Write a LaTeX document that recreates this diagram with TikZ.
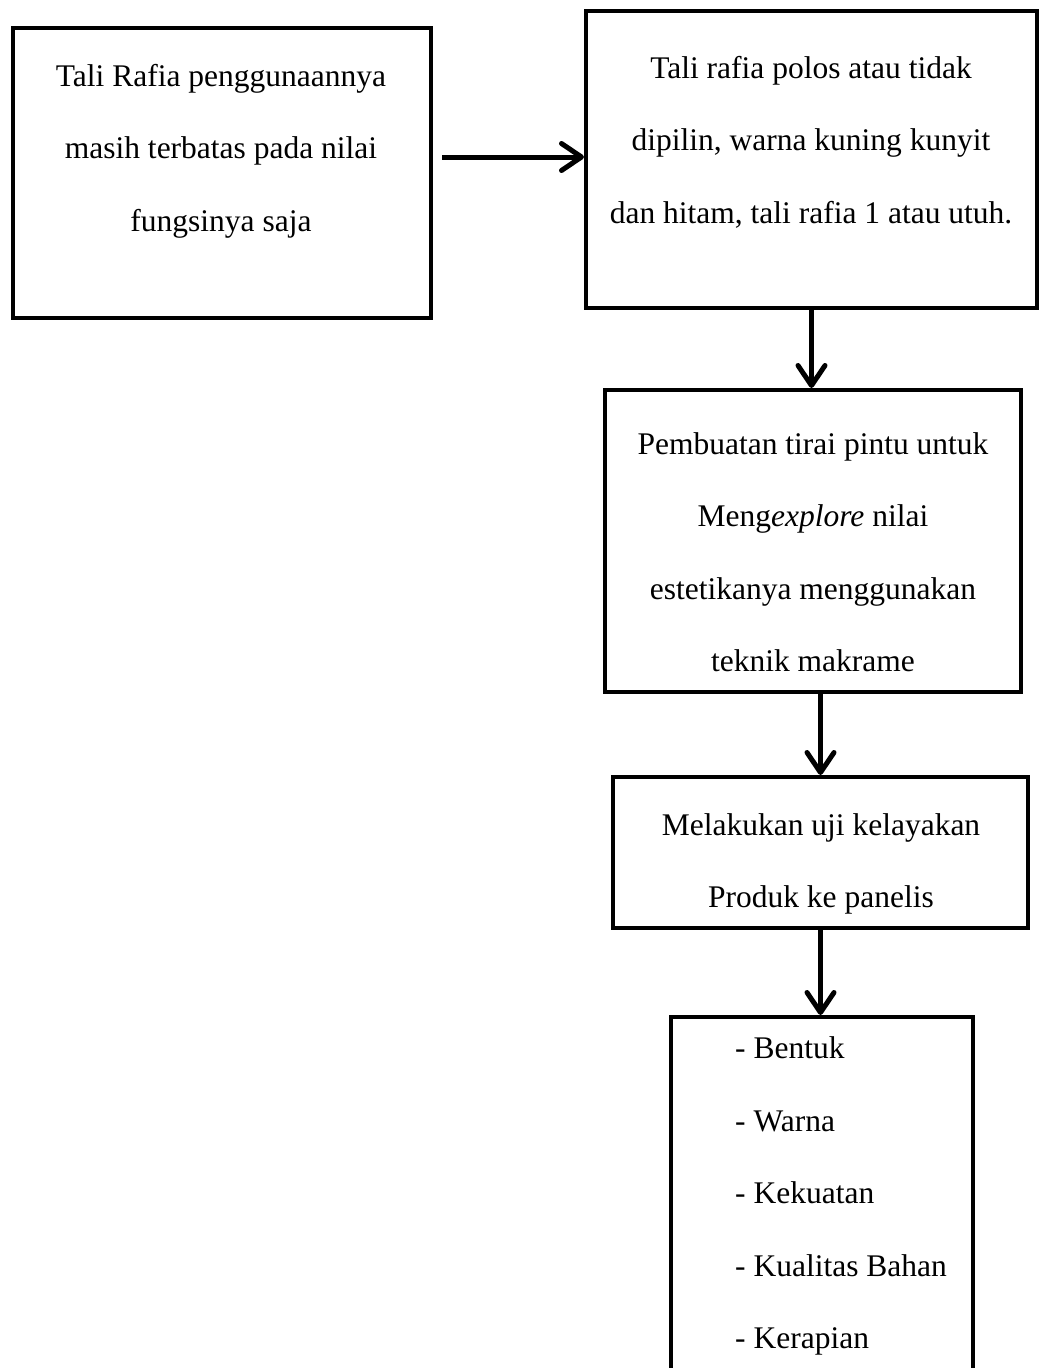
\documentclass[tikz,border=0pt]{standalone}
\usepackage{fontspec}
\setmainfont{Liberation Serif}
\usepackage{tikz}
\usetikzlibrary{calc,arrows.meta,positioning}
\tikzset{
  box/.style={draw=black,line width=4pt,inner sep=0pt},
  ar/.style={-{Straight Barb[length=20pt,width=27pt,line width=5pt,round]},line width=5pt,black},
  txt/.style={align=center,inner sep=0pt,font=\fontsize{31.5}{72.5}\selectfont}
}
\begin{document}
\begin{tikzpicture}[x=1pt,y=-1pt]
\useasboundingbox (0,0) rectangle (1040,1368);
% kotak-kotak
\node[box,minimum width=418pt,minimum height=290pt] (b1) at (222,173) {};
\node[box,minimum width=451pt,minimum height=297pt] (b2) at (811.5,159.5) {};
\node[box,minimum width=416pt,minimum height=302pt] (b3) at (813,541) {};
\node[box,minimum width=415pt,minimum height=151pt] (b4) at (820.5,852.5) {};
\node[box,minimum width=302pt,minimum height=383pt] (b5) at (822,1208.5) {};
% teks
\node[txt] (t1) at (221,151) {Tali Rafia penggunaannya\\masih terbatas pada nilai\\fungsinya saja};
\node[txt] (t2) at (811,142) {Tali rafia polos atau tidak\\dipilin, warna kuning kunyit\\dan hitam, tali rafia 1 atau utuh.};
\node[txt] (t3) at (813,552) {Pembuatan tirai pintu untuk\\Meng\textit{explore} nilai\\estetikanya menggunakan\\teknik makrame};
\node[txt] (t4) at (821,864) {Melakukan uji kelayakan\\Produk ke panelis};
\node[txt,align=left,anchor=west] (t5) at (735,1196) {- Bentuk\\- Warna\\- Kekuatan\\- Kualitas Bahan\\- Kerapian};
% panah
\coordinate (a1) at (442,157);
\draw[ar] (a1) -- (a1 -| b2.west);
\draw[ar] (b2.south) -- (b2.south |- b3.north);
\draw[ar] (b4.north |- b3.south) -- (b4.north);
\draw[ar] (b4.south) -- (b4.south |- b5.north);
\end{tikzpicture}
\end{document}
